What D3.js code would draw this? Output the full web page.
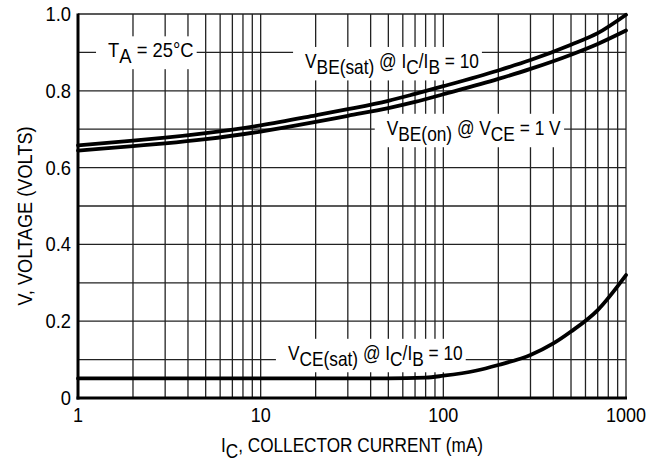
<!DOCTYPE html>
<html><head><meta charset="utf-8">
<script src="https://cdn.jsdelivr.net/npm/d3@7"></script>
<style>
html,body{margin:0;padding:0;background:#fff;}
text{font-family:"Liberation Sans Narrow","Liberation Sans",Arial,sans-serif;fill:#000;}
</style></head>
<body><svg id="c" width="652" height="464"></svg>
<script>
// Data
const currents = [1, 2, 3, 5, 10, 20, 30, 50, 70, 100, 200, 300, 500, 700, 1000];
const vbeSat   = [0.658, 0.670, 0.678, 0.690, 0.710, 0.736, 0.752, 0.774, 0.792, 0.812, 0.853, 0.880, 0.920, 0.950, 0.998];
const vbeOn    = [0.644, 0.656, 0.663, 0.674, 0.694, 0.719, 0.735, 0.755, 0.771, 0.791, 0.831, 0.857, 0.894, 0.922, 0.957];
const vceCurrents = [1, 10, 50, 80, 100, 150, 200, 300, 400, 500, 700, 1000];
const vceSat      = [0.051, 0.051, 0.051, 0.053, 0.058, 0.071, 0.086, 0.112, 0.142, 0.173, 0.229, 0.32];
const xTickValues = [1, 10, 100, 1000];
const xTickLabels = ["1", "10", "100", "1000"];
const yTickValues = [0, 0.2, 0.4, 0.6, 0.8, 1.0];
const yTickLabels = ["0", "0.2", "0.4", "0.6", "0.8", "1.0"];
const xTitle = [["I",0],["C",1],[", COLLECTOR CURRENT (mA)",0]];
const yTitle = "V, VOLTAGE (VOLTS)";
const labels = [
  {x:1.46, y:0.888, sx:0.92,  parts:[["T",0],["A",1],[" = 25°C",0]]},
  {x:17.5, y:0.859, sx:0.866, parts:[["V",0],["BE(sat)",1],[" @ I",0],["C",1],["/I",0],["B",1],[" = 10",0]]},
  {x:49,   y:0.685, sx:0.866, parts:[["V",0],["BE(on)",1],[" @ V",0],["CE",1],[" = 1 V",0]]},
  {x:14.1, y:0.099, sx:0.866, parts:[["V",0],["CE(sat)",1],[" @ I",0],["C",1],["/I",0],["B",1],[" = 10",0]]}
];

const svg = d3.select("#c");
const L=78, R=626, T=14, B=398;
const x = d3.scaleLog().domain([1,1000]).range([L,R]);
const y = d3.scaleLinear().domain([0,1]).range([B,T]);
const FS = 20;

// grid
const gx = [];
[1,10,100].forEach(d=>{for(let k=1;k<10;k++) gx.push(d*k);}); gx.push(1000);
const gy = d3.range(0,11).map(i=>i/10);
const grid = svg.append("g").attr("stroke","#222").attr("stroke-width",1.3);
grid.selectAll("line.v").data(gx).join("line").attr("class","v")
  .attr("x1",d=>x(d)).attr("x2",d=>x(d)).attr("y1",T).attr("y2",B);
grid.selectAll("line.h").data(gy).join("line").attr("class","h")
  .attr("x1",L).attr("x2",R).attr("y1",d=>y(d)).attr("y2",d=>y(d));

// labels with white boxes
function addParts(t, parts){
  let shifted = 0;
  parts.forEach(([s,sub])=>{
    const dy = sub ? 6 - shifted : -shifted;
    shifted = sub ? 6 : 0;
    t.append("tspan").attr("dy", dy).text(s);
  });
}
labels.forEach(lb=>{
  const g = svg.append("g").attr("transform",`translate(${x(lb.x)},${y(lb.y)}) scale(${lb.sx},1)`);
  const r = g.append("rect").attr("fill","#fff");
  const t = g.append("text").attr("x",0).attr("y",0).attr("font-size",FS);
  addParts(t, lb.parts);
  const bb = t.node().getBBox();
  r.attr("x", bb.x-12/lb.sx).attr("y", bb.y-3).attr("width", bb.width+15/lb.sx).attr("height", bb.height+5);
});

// curves (drawn over label boxes)
const line = d3.line().curve(d3.curveMonotoneX);
const curves = svg.append("g").attr("fill","none").attr("stroke","#000").attr("stroke-width",3.8).attr("stroke-linecap","round");
curves.append("path").attr("d", line(currents.map((c,i)=>[x(c), y(vbeSat[i])])));
curves.append("path").attr("d", line(currents.map((c,i)=>[x(c), y(vbeOn[i])])));
curves.append("path").attr("d", line(vceCurrents.map((c,i)=>[x(c), y(vceSat[i])])));

// axes frame
svg.append("line").attr("x1",L).attr("x2",L).attr("y1",T-0.6).attr("y2",B+1.5).attr("stroke","#000").attr("stroke-width",3);
svg.append("line").attr("x1",L-1.5).attr("x2",R+1).attr("y1",B).attr("y2",B).attr("stroke","#000").attr("stroke-width",3);

// ticks
svg.append("g").selectAll("text").data(xTickValues).join("text")
  .attr("transform",d=>`translate(${x(d)},422) scale(0.9,1)`).attr("text-anchor","middle").attr("font-size",FS)
  .text((d,i)=>xTickLabels[i]);
svg.append("g").selectAll("text").data(yTickValues).join("text")
  .attr("transform",d=>`translate(71,${y(d)+7}) scale(0.92,1)`).attr("text-anchor","end").attr("font-size",FS)
  .text((d,i)=>yTickLabels[i]);

// titles
const xt = svg.append("text").attr("transform",`translate(${(L+R)/2},452) scale(0.86,1)`).attr("text-anchor","middle").attr("font-size",FS);
addParts(xt, xTitle);
svg.append("text").attr("transform",`translate(32,216) rotate(-90) scale(0.91,1)`).attr("text-anchor","middle")
  .attr("font-size",FS).text(yTitle);
</script></body></html>
